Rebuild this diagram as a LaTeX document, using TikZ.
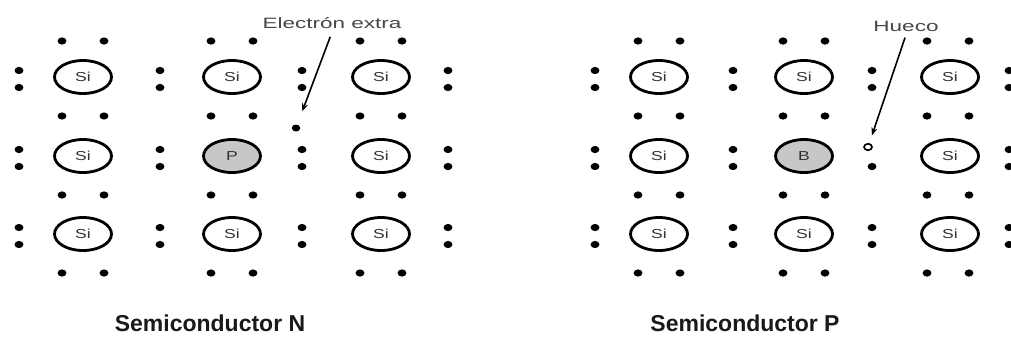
\documentclass[tikz,border=0pt]{standalone}
\usepackage{fontspec}
\setmainfont{Liberation Sans}
\newfontfamily\atomfont[FakeStretch=1.35]{Liberation Sans}
\newfontfamily\notefont[FakeStretch=1.5]{Liberation Sans}
\usetikzlibrary{shapes.geometric,arrows.meta}

\begin{document}
\begin{tikzpicture}[x=1pt,y=-1pt,
  atom/.style={ellipse, draw, line width=2.8pt, minimum width=57pt,
    minimum height=33pt, inner sep=0pt, text=black!80,
    font=\atomfont\fontsize{13}{13}\selectfont},
  dopant/.style={atom, fill=black!22},
  electron/.style={ellipse, fill=black, minimum width=8.5pt,
    minimum height=7pt, inner sep=0pt},
  hole/.style={ellipse, draw, line width=1.6pt, minimum width=8pt,
    minimum height=6.5pt, inner sep=0pt},
  note/.style={text=black!72, font=\notefont\fontsize{15}{15}\selectfont},
  title/.style={font=\bfseries\fontsize{23}{23}\selectfont, text=black!90},
  pointer/.style={line width=1.6pt, -{Stealth[length=8pt,width=6pt]}}]

\fill[white] (0,0) rectangle (1011,349);
\useasboundingbox (0,0) rectangle (1011,349);

% valence electron pairs above and below each atom column
\foreach \ax in {83,232,381,659,804,948}
  \foreach \ry in {41,116,195,273}
    \foreach \dx in {-21,21}
      \fill (\ax+\dx,\ry) ellipse [x radius=4.4pt, y radius=3.6pt];

% electron pairs between neighbouring atoms in a row (colons)
\foreach \cx in {19,160,302,448,595,733,1009}
  \foreach \ry in {77,156,234}
    \foreach \dy in {-6.5,10.5}
      \fill (\cx,\ry+\dy) ellipse [x radius=4.4pt, y radius=3.6pt];
\foreach \ry in {77,234}
  \foreach \dy in {-6.5,10.5}
    \fill (872,\ry+\dy) ellipse [x radius=4.4pt, y radius=3.6pt];
\fill (872,166.5) ellipse [x radius=4.4pt, y radius=3.6pt];

% N-type lattice
\node[atom] (n11) at (83,77) {Si};
\node[atom] (n12) at (232,77) {Si};
\node[atom] (n13) at (381,77) {Si};
\node[atom] (n21) at (83,156) {Si};
\node[dopant] (n22) at (232,156) {P};
\node[atom] (n23) at (381,156) {Si};
\node[atom] (n31) at (83,234) {Si};
\node[atom] (n32) at (232,234) {Si};
\node[atom] (n33) at (381,234) {Si};

% P-type lattice
\node[atom] (p11) at (659,77) {Si};
\node[atom] (p12) at (804,77) {Si};
\node[atom] (p13) at (950,77) {Si};
\node[atom] (p21) at (659,156) {Si};
\node[dopant] (p22) at (804,156) {B};
\node[atom] (p23) at (950,156) {Si};
\node[atom] (p31) at (659,234) {Si};
\node[atom] (p32) at (804,234) {Si};
\node[atom] (p33) at (950,234) {Si};

% free electron and hole
\node[electron] (extra) at (296,128) {};
\node[hole] (gap) at (868,147) {};

\node[note] (extralbl) at (332,23) {Electrón extra};
\node[note] (gaplbl) at (906,26) {Hueco};

\draw[pointer, shorten <=5pt, shorten >=14pt] (extralbl.south) -- (extra);
\draw[pointer, shorten <=3pt, shorten >=8pt] (gaplbl.south) -- (gap);

\node[title] (ntitle) at (210,323) {Semiconductor N};
\node[title] (ptitle) at (745,323) {Semiconductor P};
\end{tikzpicture}
\end{document}
